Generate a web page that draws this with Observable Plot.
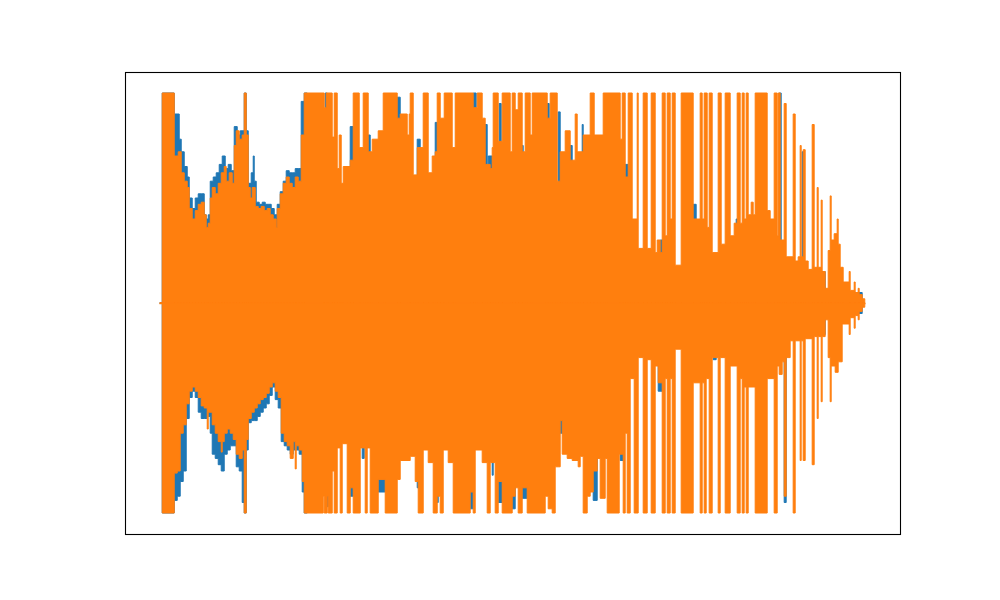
<!DOCTYPE html>
<html>
<head>
<meta charset="utf-8">
<script src="https://cdn.jsdelivr.net/npm/d3@7"></script>
<script src="https://cdn.jsdelivr.net/npm/@observablehq/plot@0.6"></script>
<style>
  html, body { margin: 0; padding: 0; background: #fff; }
</style>
</head>
<body>
<div id="chart"></div>
<script>
// Stereo waveform envelope.
// t = frame index, value = normalised amplitude (-1..1); each value holds until the next t.

// Channel 2 (orange), upper envelope
const orangeTop = [
  [0,0],[2,1.0],[14,0.70],[18,0.72],[21,0.62],[24,0.58],[27,0.55],[29,0.45],[32,0.40],[35,0.44],[38,0.47],[41,0.48],[44,0.42],[46,0.36],[48,0.38],[50,0.50],[52,0.55],[55,0.52],[58,0.57],[61,0.62],[64,0.65],[66,0.58],[69,0.62],[72,0.57],[74,0.75],[76,0.82],[79,0.78],[82,0.80],[84,1.0],[86,0.80],[88,0.55],[90,0.50],[92,0.55],[95,0.46],[98,0.45],[101,0.46],[104,0.44],[107,0.45],[110,0.42],[113,0.40],[116,0.36],[117,0.45],[120,0.52],[123,0.57],[126,0.60],[129,0.57],[132,0.55],[135,0.60],[138,0.58],[141,0.80],[144,1.0],
  [164,0.93],[166,1.0],[172,0.79],[174,1.0],[177,0.64],[179,0.80],[181,0.57],[183,0.65],[190,0.68],[193,1.0],[199,0.74],[203,1.0],[208,0.72],[212,0.78],[218,0.82],[223,1.0],[237,0.88],[240,0.90],[247,0.80],[249,0.90],[250,1.0],[253,0.61],[257,0.74],[263,1.0],[268,0.62],[272,0.70],[275,0.72],[277,1.0],[280,0.88],[284,1.0],[292,0.74],[295,1.0],[313,0.93],[317,1.0],[322,0.88],[325,0.66],[330,0.64],[332,0.74],[333,1.0],[338,0.77],[342,1.0],[350,0.72],[352,1.0],[355,0.92],[358,1.0],[362,0.72],[365,1.0],[370,0.80],[372,1.0],[387,0.88],[390,1.0],[397,0.58],[400,0.72],[405,0.82],[410,0.68],[415,0.90],[417,0.72],[423,0.80],[430,1.0],[434,0.80],[443,1.0],[460,0.78],[462,1.0],[465,0.60],[468,1.0],[472,0.40],[477,1.0],[478,0.26],[483,1.0],[487,0.26],[491,1.0],[495,0.24],[497,0.30],[500,0.24],[502,1.0],[505,0.32],[507,1.0],[510,0.40],[512,1.0],[515,0.18],[521,1.0],
  [533,0.40],[540,1.0],[542,0.40],[544,1.0],[547,0.36],[549,1.0],[552,0.24],[558,1.0],[561,0.28],[565,1.0],[570,0.32],[574,0.38],[577,1.0],[580,0.38],[582,1.0],[584,0.40],[586,1.0],[588,0.42],[591,0.48],[593,0.42],[595,1.0],[607,0.44],[610,0.40],[614,1.0],[617,0.32],[618,1.0],[620,0.30],[624,0.95],[626,0.22],[633,0.90],[635,0.20],[638,0.22],[640,0.75],[641,0.22],[643,0.73],[645,0.20],[648,0.16],[652,0.85],[654,0.17],[657,0.55],[658,0.17],[661,0.49],[662,0.15],[665,0.07],[668,0.25],[670,0.51],[671,0.30],[674,0.33],[677,0.40],[678,0.28],[680,0.17],[683,0.10],[689,0.15],[690,0.06],[694,0.10],[695,0.05],[698,0.07],[699,0.04],[702,0.02],[704.6,0]
];

// Channel 2 (orange), lower envelope
const orangeBottom = [
  [0,0],[2,-1.0],[14,-0.81],[17,-0.80],[20,-0.62],[23,-0.58],[26,-0.48],[29,-0.42],[32,-0.40],[35,-0.42],[38,-0.45],[41,-0.49],[44,-0.50],[47,-0.60],[48,-0.52],[52,-0.58],[55,-0.62],[58,-0.66],[61,-0.71],[62,-0.66],[64,-0.62],[67,-0.60],[70,-0.62],[73,-0.65],[76,-0.72],[79,-0.74],[82,-0.70],[84,-1.0],[86,-0.65],[88,-0.55],[91,-0.52],[94,-0.50],[97,-0.48],[100,-0.46],[103,-0.45],[106,-0.43],[109,-0.40],[112,-0.38],[115,-0.42],[118,-0.45],[121,-0.62],[124,-0.66],[127,-0.68],[130,-0.74],[133,-0.66],[135,-0.79],[136,-0.68],[139,-0.70],[142,-0.85],[144,-1.0],
  [163,-0.92],[164,-1.0],[167,-0.92],[168,-1.0],[172,-0.80],[174,-1.0],[177,-0.69],[180,-1.0],[182,-0.67],[187,-1.0],[190,-0.88],[193,-1.0],[200,-0.69],[205,-1.0],[207,-0.69],[210,-1.0],[218,-0.84],[225,-1.0],[237,-0.84],[240,-0.75],[250,-0.73],[255,-0.85],[258,-1.0],[263,-0.70],[268,-0.76],[273,-1.0],[277,-0.92],[280,-1.0],[283,-0.70],[288,-0.76],[293,-1.0],[310,-0.90],[313,-1.0],[315,-0.70],[322,-0.76],[327,-1.0],[330,-0.76],[335,-1.0],[338,-0.85],[342,-1.0],[352,-0.92],[355,-0.88],[358,-1.0],[362,-0.88],[367,-1.0],[385,-0.92],[388,-0.98],[392,-1.0],[395,-0.78],[400,-0.56],[402,-0.72],[407,-0.74],[412,-0.75],[418,-0.78],[420,-0.73],[423,-1.0],[427,-0.92],[430,-0.90],[433,-0.80],[437,-0.74],[440,-0.93],[445,-0.74],[447,-1.0],[459,-0.72],[463,-1.0],[465,-0.62],[467,-1.0],[470,-0.36],[474,-1.0],[478,-0.26],[483,-1.0],[487,-0.27],[491,-1.0],[495,-0.30],[498,-0.38],[502,-1.0],[505,-0.36],[507,-1.0],[510,-0.36],[512,-1.0],[515,-0.22],[521,-1.0],
  [533,-0.38],[540,-1.0],[542,-0.38],[544,-1.0],[546,-0.36],[549,-1.0],[552,-0.26],[558,-1.0],[560,-0.26],[565,-1.0],[570,-0.30],[577,-1.0],[580,-0.36],[582,-1.0],[584,-0.40],[586,-1.0],[588,-0.40],[595,-1.0],[607,-0.36],[614,-1.0],[617,-0.30],[619,-0.34],[622,-0.28],[624,-0.92],[626,-0.26],[630,-0.18],[633,-1.0],[635,-0.18],[640,-0.75],[641,-0.18],[643,-0.75],[645,-0.17],[652,-0.77],[654,-0.16],[657,-0.55],[658,-0.16],[661,-0.47],[662,-0.16],[665,-0.08],[668,-0.26],[670,-0.47],[671,-0.30],[675,-0.33],[678,-0.28],[682,-0.10],[689,-0.15],[690,-0.07],[694,-0.12],[695,-0.06],[698,-0.08],[699,-0.04],[702,-0.02],[704.6,0]
];

// Channel 1 (blue), upper envelope
const blueTop = [
  [0,0],[2,1.0],[14,0.90],[19,0.78],[21,0.72],[24,0.65],[27,0.60],[29,0.50],[32,0.45],[35,0.50],[38,0.52],[41,0.52],[44,0.42],[46,0.40],[48,0.42],[50,0.58],[53,0.60],[56,0.62],[59,0.66],[62,0.70],[65,0.64],[68,0.66],[71,0.63],[74,0.84],[77,0.80],[80,0.82],[84,1.0],[86,0.82],[88,0.57],[91,0.62],[93,0.70],[94,0.58],[96,0.48],[99,0.47],[102,0.48],[105,0.47],[108,0.47],[111,0.45],[114,0.42],[117,0.47],[120,0.53],[123,0.58],[126,0.63],[129,0.62],[132,0.62],[135,0.64],[138,0.64],[141,0.96],[144,1.0],[147,0.45],
  [165,1.0],[167,0.45],[190,0.84],[193,0.45],[208,0.80],[210,0.45],[237,0.98],[240,0.45],[257,0.78],[260,0.45],[275,0.86],[277,0.45],[313,1.0],[316,0.45],[325,0.85],[327,0.45],[328,0.70],[332,0.45],[339,0.95],[341,0.45],[362,0.75],[363,0.45],[387,0.95],[389,0.45],[398,0.91],[400,0.45],[410,0.75],[412,0.45],[422,0.85],[423,0.45],[465,0.66],[468,0.15],[500,0.30],[503,0.15],[533,0.47],[536,0.15],[576,0.40],[577,0.15],[619,1.0],[621,0.15],[642,0.72],[644,0.15],[665,0.05],[680,0.05],[702,0],[704.6,0]
];

// Channel 1 (blue), lower envelope
const blueBottom = [
  [0,0],[2,-1.0],[14,-0.94],[17,-0.92],[20,-0.85],[23,-0.80],[26,-0.55],[29,-0.45],[32,-0.42],[35,-0.45],[38,-0.52],[41,-0.55],[44,-0.55],[47,-0.54],[50,-0.62],[52,-0.72],[55,-0.74],[58,-0.77],[61,-0.80],[64,-0.72],[67,-0.70],[70,-0.68],[73,-0.68],[76,-0.78],[79,-0.80],[82,-0.95],[84,-1.0],[86,-0.70],[88,-0.57],[91,-0.56],[94,-0.56],[97,-0.54],[100,-0.52],[103,-0.50],[106,-0.48],[109,-0.44],[112,-0.40],[115,-0.46],[118,-0.50],[121,-0.66],[124,-0.68],[127,-0.70],[130,-0.72],[133,-0.70],[136,-0.70],[139,-0.72],[142,-0.90],[144,-1.0],[147,-0.45],
  [167,-0.97],[168,-0.45],[190,-0.92],[193,-0.45],[202,-0.74],[204,-0.45],[218,-0.90],[225,-0.45],[257,-0.88],[260,-0.45],[277,-0.95],[278,-0.45],[310,-0.98],[313,-0.45],[332,-0.82],[333,-0.45],[338,-0.95],[342,-0.45],[352,-0.98],[355,-0.45],[362,-0.93],[367,-0.45],[400,-0.62],[403,-0.45],[433,-0.94],[437,-0.45],[460,-0.75],[463,-0.15],[498,-0.42],[502,-0.15],[553,-0.27],[556,-0.15],[624,-0.95],[626,-0.15],[665,-0.05],[680,-0.05],[702,0],[704.6,0]
];

const seriesColors = {blue: "#1f77b4", orange: "#ff7f0e"};

// Domains with matplotlib-like 5% padding, computed from the data
const all = [...orangeTop, ...orangeBottom, ...blueTop, ...blueBottom];
const tMin = d3.min(all, d => d[0]);
const tMax = d3.max(all, d => d[0]);
const padT = 0.05 * (tMax - tMin);
const aMax = d3.max(all, d => Math.abs(d[1]));
const padA = 0.05 * (2 * aMax);

const env = (data, color) => Plot.areaY(data, {
  x: d => d[0], y1: 0, y2: d => d[1],
  curve: "step-after", fill: color, stroke: color, strokeWidth: 1
});

const chart = Plot.plot({
  width: 1000,
  height: 600,
  marginLeft: 125,
  marginRight: 100,
  marginTop: 72,
  marginBottom: 66,
  x: {domain: [tMin - padT, tMax + padT], axis: null},
  y: {domain: [-aMax - padA, aMax + padA], axis: null},
  style: {background: "#fff"},
  marks: [
    env(blueTop, seriesColors.blue),
    env(blueBottom, seriesColors.blue),
    Plot.ruleY([0], {x1: tMin, x2: tMax, stroke: seriesColors.orange, strokeWidth: 1.5, strokeLinecap: "square"}),
    env(orangeTop, seriesColors.orange),
    env(orangeBottom, seriesColors.orange),
    Plot.frame({stroke: "#000", strokeWidth: 1.1})
  ]
});
document.getElementById("chart").appendChild(chart);
</script>
</body>
</html>
